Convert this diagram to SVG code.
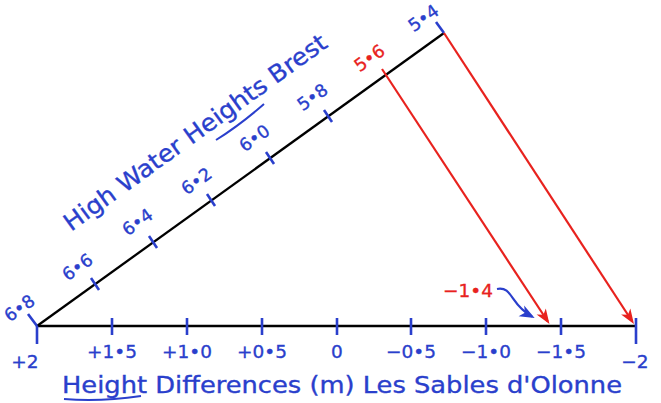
<svg xmlns="http://www.w3.org/2000/svg" width="661" height="403" viewBox="0 0 661 403">
<style>
.bl{fill:#2a3fcc;stroke:#2a3fcc;stroke-width:0.35;font-family:"DejaVu Sans",sans-serif}
.rd{fill:#e8221e;stroke:#e8221e;stroke-width:0.35;font-family:"DejaVu Sans",sans-serif}
.ax{font-size:18.5px;text-anchor:middle}
.dg{font-size:17.5px;text-anchor:middle}
.tick{stroke:#2a3fcc;stroke-width:2.6;fill:none}
.blk{stroke:#000;stroke-width:2.3;fill:none}
.red{stroke:#e8221e;stroke-width:2.2;fill:none}
</style>
<defs>
<marker id="ar" markerUnits="userSpaceOnUse" viewBox="-14 -7 18 14" refX="0" refY="0" markerWidth="18" markerHeight="14" orient="auto">
<path d="M3,0 L-12,-5.5 L-8,0 L-12,5.5 Z" fill="#e8221e"/>
</marker>
<marker id="ab" markerUnits="userSpaceOnUse" viewBox="-14 -7 18 14" refX="0" refY="0" markerWidth="18" markerHeight="14" orient="auto">
<path d="M3,0 L-12,-6 L-8,0 L-12,6 Z" fill="#2a3fcc"/>
</marker>
</defs>

<g id="axes">
<line class="blk" x1="37" y1="326" x2="636" y2="326"/>
<line class="blk" x1="37" y1="326" x2="444" y2="33"/>
</g>

<g id="h-ticks">
<line class="tick" x1="37" y1="326" x2="37" y2="344"/>
<line class="tick" x1="112" y1="318" x2="112" y2="335"/>
<line class="tick" x1="187" y1="318" x2="187" y2="335"/>
<line class="tick" x1="262" y1="318" x2="262" y2="335"/>
<line class="tick" x1="337" y1="318" x2="337" y2="335"/>
<line class="tick" x1="411" y1="318" x2="411" y2="335"/>
<line class="tick" x1="486" y1="318" x2="486" y2="335"/>
<line class="tick" x1="561" y1="318" x2="561" y2="335"/>
<line class="tick" x1="636" y1="318" x2="636" y2="344"/>
</g>

<g id="h-labels" class="bl ax">
<text x="25" y="368">+2</text>
<text x="112" y="358">+1•5</text>
<text x="187" y="358">+1•0</text>
<text x="262" y="358">+0•5</text>
<text x="337" y="358">0</text>
<text x="411" y="358">−0•5</text>
<text x="486" y="358">−1•0</text>
<text x="561" y="358">−1•5</text>
<text x="635" y="368">−2</text>
</g>

<g id="d-ticks">
<line class="tick" x1="37" y1="326" x2="28" y2="314"/>
<line class="tick" x1="91" y1="278" x2="99" y2="290"/>
<line class="tick" x1="149" y1="236" x2="157" y2="248"/>
<line class="tick" x1="207" y1="194" x2="215" y2="206"/>
<line class="tick" x1="266" y1="152" x2="274" y2="164"/>
<line class="tick" x1="324" y1="110" x2="332" y2="122"/>
<line class="tick" x1="444" y1="33" x2="436" y2="22"/>
</g>

<g id="d-labels" class="bl dg">
<text transform="translate(23,313) rotate(-35.75)">6•8</text>
<text transform="translate(81,272) rotate(-35.75)">6•6</text>
<text transform="translate(141,227) rotate(-35.75)">6•4</text>
<text transform="translate(200,186) rotate(-35.75)">6•2</text>
<text transform="translate(258,143) rotate(-35.75)">6•0</text>
<text transform="translate(316,102) rotate(-35.75)">5•8</text>
<text class="rd" transform="translate(373,63) rotate(-35.75)">5•6</text>
<text transform="translate(427,23) rotate(-35.75)">5•4</text>
</g>

<g id="title-diag">
<text class="bl" font-size="24" text-anchor="middle" textLength="318" lengthAdjust="spacingAndGlyphs" transform="translate(200,139) rotate(-35.75)">High Water Heights Brest</text>
<path d="M216,140 Q240,125 264,104" stroke="#2a3fcc" stroke-width="2" fill="none"/>
</g>

<g id="title-bottom">
<text class="bl" x="62" y="393" font-size="23" textLength="560" lengthAdjust="spacingAndGlyphs">Height Differences (m) Les Sables d'Olonne</text>
<path d="M64,399 Q100,402 141,396" stroke="#2a3fcc" stroke-width="2" fill="none"/>
</g>

<g id="connectors">
<line class="red" x1="382" y1="69" x2="547.8" y2="321.5" marker-end="url(#ar)"/>
<line class="red" x1="444" y1="33" x2="632.3" y2="321.5" marker-end="url(#ar)"/>
<path d="M497,289 C513,286 510,305 532,316.5" stroke="#2a3fcc" stroke-width="2.2" fill="none" marker-end="url(#ab)"/>
</g>

<g id="note">
<text class="rd" x="468" y="297" font-size="18.5" text-anchor="middle">−1•4</text>
</g>
</svg>
